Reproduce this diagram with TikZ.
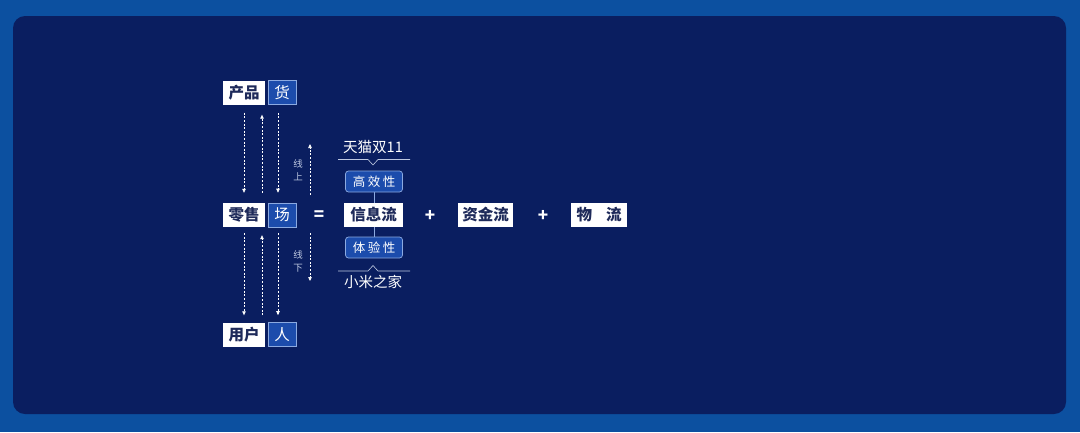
\documentclass[tikz,border=0pt]{standalone}
\usepackage{fontspec}
\newfontfamily\cjk{Noto Sans CJK SC}
\usetikzlibrary{arrows.meta}
\definecolor{outerbg}{RGB}{12,80,160}
\definecolor{panel}{RGB}{10,30,96}
\definecolor{bluebox}{RGB}{28,76,172}
\definecolor{boxline}{RGB}{140,170,225}
\definecolor{navytext}{RGB}{30,42,90}
\definecolor{labelc}{RGB}{190,200,225}
\begin{document}
\begin{tikzpicture}[x=1pt,y=-1pt,
  wbox/.style={fill=white, text=navytext, minimum height=24pt, inner sep=0pt, font=\cjk\bfseries\fontsize{15.5}{16}\selectfont},
  bbox/.style={fill=bluebox, draw=boxline, line width=0.6pt, text=white, minimum width=28pt, minimum height=24pt, inner sep=0pt, font=\cjk\fontsize{15.5}{16}\selectfont},
  rbox/.style={fill=bluebox, draw=boxline, line width=0.7pt, rounded corners=3pt, text=white, minimum width=57pt, minimum height=21pt, inner sep=0pt, font=\cjk\fontsize{12.5}{13}\selectfont},
  flow/.style={white, line width=0.6pt, dash pattern=on 2pt off 1.6pt, -{Triangle[length=4pt,width=3.5pt]}},
  side/.style={text=labelc, align=center, inner sep=0pt, font=\cjk\fontsize{9.5}{13}\selectfont},
  op/.style={text=white, inner sep=0pt, font=\cjk\bfseries\fontsize{17}{17}\selectfont},
  caption/.style={text=white, inner sep=0pt, font=\cjk\fontsize{14.5}{14.5}\selectfont},
  brace/.style={labelc, line width=0.6pt}
]
\useasboundingbox (0,0) rectangle (1080,432);
\fill[outerbg] (0,0) rectangle (1080,432);
\fill[panel, rounded corners=12pt] (13,16) rectangle (1066,414);

% left column
\node[wbox, minimum width=42pt] (wp) at (244,92.5) {产品};
\node[bbox] (bh) at (282,92.5) {货};
\node[wbox, minimum width=42pt] (wl) at (244,215) {零售};
\node[bbox] (bc) at (282,215) {场};
\node[wbox, minimum width=42pt] (wu) at (244,334.5) {用户};
\node[bbox] (br) at (282,334.5) {人};

% top arrows
\draw[flow] ([yshift=-8pt]wp.south) -- ([yshift=10pt]wl.north);
\draw[flow] ([xshift=18pt,yshift=10pt]wl.north) -- ([xshift=18pt,yshift=-10pt]wp.south);
\draw[flow] ([xshift=-4pt,yshift=-8pt]bh.south) -- ([xshift=-4pt,yshift=10pt]bc.north);
% bottom arrows
\draw[flow] ([yshift=-6pt]wl.south) -- ([yshift=7pt]wu.north);
\draw[flow] ([xshift=18pt,yshift=7pt]wu.north) -- ([xshift=18pt,yshift=-8pt]wl.south);
\draw[flow] ([xshift=-4pt,yshift=-6pt]bc.south) -- ([xshift=-4pt,yshift=7pt]br.north);

% online / offline
\coordinate (on1) at (310,195);
\coordinate (on2) at (310,144);
\coordinate (off1) at (310,233);
\coordinate (off2) at (310,281);
\draw[flow] (on1) -- (on2);
\draw[flow] (off1) -- (off2);
\node[side] (lon) at (298,170) {线\\上};
\node[side] (loff) at (298,261) {线\\下};

\node[op] (eq) at (319,216) {=};

% middle column
\draw[boxline, line width=0.7pt] (374,181.5) -- (374,247.5);
\node[wbox, minimum width=59pt] (xx) at (373.5,215) {信息流};
\node[rbox] (gx) at (374,181.5) {高\hspace{2.5pt}效\hspace{2.5pt}性};
\node[rbox] (ty) at (374,247.5) {体\hspace{2.5pt}验\hspace{2.5pt}性};

\node[caption] (tm) at (373,147) {天猫双11};
\draw[brace] (338,159.5) -- (368,159.5) -- (373,165) -- (378,159.5) -- (410,159.5);
\node[caption] (xm) at (373,282) {小米之家};
\draw[brace] (338,271) -- (368,271) -- (373,265.5) -- (378,271) -- (410,271);

\node[op] (p1) at (430,216) {+};
\node[wbox, minimum width=55pt] (zj) at (485.5,215) {资金流};
\node[op] (p2) at (543,216) {+};
\node[wbox, minimum width=56pt] (wlz) at (599,215) {物\hspace{14pt}流};
\end{tikzpicture}
\end{document}
